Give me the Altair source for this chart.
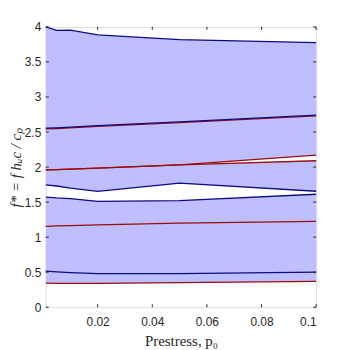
import altair as alt
import pandas as pd

# prestress values
p0 = [0.001, 0.005, 0.01, 0.02, 0.05, 0.1]

# band-edge curves (f*)
top_blue = [4.0, 3.95, 3.955, 3.885, 3.82, 3.775]
blue_255 = [2.555, 2.56, 2.57, 2.59, 2.645, 2.74]
red_255 = [2.545, 2.55, 2.56, 2.58, 2.635, 2.73]
red_2_up = [1.96, 1.965, 1.97, 1.985, 2.03, 2.17]
red_2_lo = [1.96, 1.965, 1.97, 1.985, 2.03, 2.09]
blue_gap_up = [1.747, 1.73, 1.70, 1.652, 1.77, 1.655]
blue_gap_lo = [1.572, 1.56, 1.55, 1.51, 1.52, 1.612]
red_115 = [1.155, 1.16, 1.165, 1.175, 1.20, 1.225]
blue_05 = [0.515, 0.505, 0.495, 0.48, 0.48, 0.50]
red_035 = [0.345, 0.34, 0.34, 0.34, 0.35, 0.37]

x_ticks = [0.02, 0.04, 0.06, 0.08, 0.1]
y_ticks = [0, 0.5, 1, 1.5, 2, 2.5, 3, 3.5, 4]

FILL = "#bfbfff"
BLUE = "#0c0c85"
RED = "#9a0c0c"
W, H = 272, 282

bands = [("A", red_035, blue_gap_lo), ("B", blue_gap_up, red_2_lo), ("C", red_2_up, top_blue)]
band_rows = []
for name, lo, hi in bands:
    for x, a, b in zip(p0, lo, hi):
        band_rows.append({"band": name, "p0": x, "lo": a, "hi": b})
band_df = pd.DataFrame(band_rows)

blue_series = {"top": top_blue, "b255": blue_255, "gu": blue_gap_up, "gl": blue_gap_lo, "b05": blue_05}
red_series = {"r255": red_255, "r2u": red_2_up, "r2l": red_2_lo, "r115": red_115, "r035": red_035}

def long(series):
    rows = []
    for k, vals in series.items():
        for x, v in zip(p0, vals):
            rows.append({"s": k, "p0": x, "f": v})
    return pd.DataFrame(rows)

xs = alt.Scale(domain=[0.001, 0.1], nice=False, zero=False)
ys = alt.Scale(domain=[0, 4], nice=False)

TK = "#262626"
xax = alt.Axis(values=x_ticks, format="~g", ticks=False, domain=False, grid=False,
               labelFont="Liberation Sans", labelFontSize=12, labelColor=TK,
               labelOverlap=False, labelPadding=9,
               titleFont="Liberation Serif", titleFontSize=15, titleFontWeight="normal",
               titleColor=TK, titlePadding=6)
yax = alt.Axis(values=y_ticks, format="~g", ticks=False, domain=False, grid=False,
               labelFont="Liberation Sans", labelFontSize=12, labelColor=TK,
               labelOverlap=False, labelPadding=5,
               titleFont="Liberation Serif", titleFontSize=15, titleFontWeight="normal",
               titleFontStyle="italic", titleColor=TK, titlePadding=1)
XT = "Prestress, p₀"
YT = "f* = f hᵤc / cₚ"

def X(field):
    return alt.X(field, scale=xs, axis=xax, title=XT)

def Y(field):
    return alt.Y(field, scale=ys, axis=yax, title=YT)

area = alt.Chart(band_df).mark_area(color=FILL, opacity=1, interpolate="linear").encode(
    x=X("p0:Q"), y=Y("lo:Q"), y2="hi:Q", detail="band:N",
)

red_lines = alt.Chart(long(red_series)).mark_line(color=RED, strokeWidth=1.3).encode(
    x=X("p0:Q"), y=Y("f:Q"), detail="s:N")
blue_lines = alt.Chart(long(blue_series)).mark_line(color=BLUE, strokeWidth=1.3).encode(
    x=X("p0:Q"), y=Y("f:Q"), detail="s:N")

xt = pd.DataFrame({"t": x_ticks})
yt = pd.DataFrame({"t": y_ticks})
xtick_b = alt.Chart(xt).mark_rule(color=TK, strokeWidth=1).encode(
    x=X("t:Q"), y=alt.value(H - 3), y2=alt.value(H))
xtick_t = alt.Chart(xt).mark_rule(color=TK, strokeWidth=1).encode(
    x=X("t:Q"), y=alt.value(0), y2=alt.value(3))
ytick_l = alt.Chart(yt).mark_rule(color=TK, strokeWidth=1).encode(
    y=Y("t:Q"), x=alt.value(0), x2=alt.value(3))
ytick_r = alt.Chart(yt).mark_rule(color=TK, strokeWidth=1).encode(
    y=Y("t:Q"), x=alt.value(W - 3), x2=alt.value(W))

chart = alt.layer(area, red_lines, blue_lines, xtick_b, xtick_t, ytick_l, ytick_r).properties(
    width=W, height=H,
    autosize=alt.AutoSizeParams(type="none"),
    padding={"left": 38, "top": 18, "right": 26, "bottom": 42},
).configure_view(stroke=TK, strokeWidth=1).configure(background="white")

chart.save("out.html", embed_options={"renderer": "svg", "actions": False})
